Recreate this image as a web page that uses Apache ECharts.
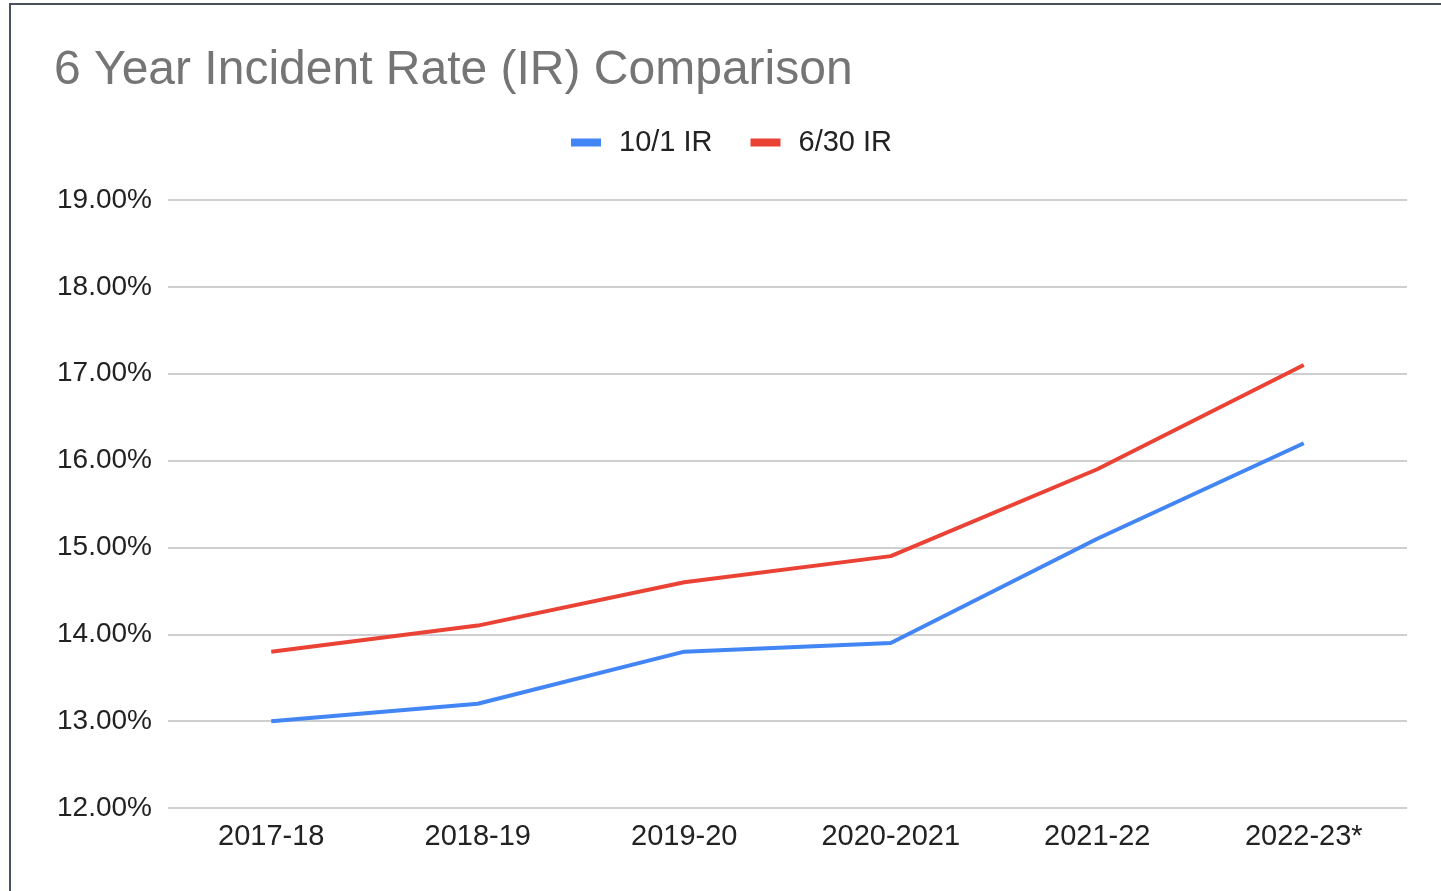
<!DOCTYPE html>
<html><head><meta charset="utf-8">
<script src="https://cdn.jsdelivr.net/npm/echarts@6/dist/echarts.min.js"></script>
<style>
html,body{margin:0;padding:0;background:#fff;overflow:hidden;}
#frame{position:absolute;left:9px;top:3px;width:1500px;height:1000px;border:2px solid #4a5260;box-sizing:border-box;}
#c{position:absolute;left:0;top:0;width:1441px;height:891px;}
</style></head>
<body><div id="frame"></div><div id="c"></div>
<script>
const categories = ['2017-18','2018-19','2019-20','2020-2021','2021-22','2022-23*'];
const ir101 = [13.0, 13.2, 13.8, 13.9, 15.1, 16.2];
const ir630 = [13.8, 14.1, 14.6, 14.9, 15.9, 17.1];
const seriesNames = ['10/1 IR','6/30 IR'];
const font = '"Liberation Sans", Arial, sans-serif';
const chart = echarts.init(document.getElementById('c'), null, {renderer:'canvas'});
chart.setOption({
  animation:false,
  title:{text:'6 Year Incident Rate (IR) Comparison',left:49,top:42,
    textStyle:{fontFamily:font,fontSize:48,fontWeight:'normal',color:'#757575'}},
  legend:{top:123,left:566,itemWidth:30,itemHeight:8,itemGap:38,icon:'rect',
    textStyle:{fontFamily:font,fontSize:29,color:'#222',padding:[0,0,0,13]},
    data:seriesNames},
  grid:{left:168,right:34,top:200,bottom:83,containLabel:false},
  xAxis:{type:'category',data:categories,boundaryGap:true,
    axisLine:{show:false},axisTick:{show:false},
    axisLabel:{fontFamily:font,fontSize:29,color:'#222',margin:14}},
  yAxis:{type:'value',min:12,max:19,interval:1,
    axisLabel:{fontFamily:font,fontSize:28,color:'#222',margin:16,
      formatter:v=>v.toFixed(2)+'%'},
    splitLine:{lineStyle:{color:'#cfcfcf',width:2}}},
  series:[
    {name:seriesNames[0],type:'line',data:ir101,symbol:'none',lineStyle:{width:4,color:'#4285F4'},itemStyle:{color:'#4285F4'}},
    {name:seriesNames[1],type:'line',data:ir630,symbol:'none',lineStyle:{width:4,color:'#EA4335'},itemStyle:{color:'#EA4335'}}
  ]
});
</script></body></html>
